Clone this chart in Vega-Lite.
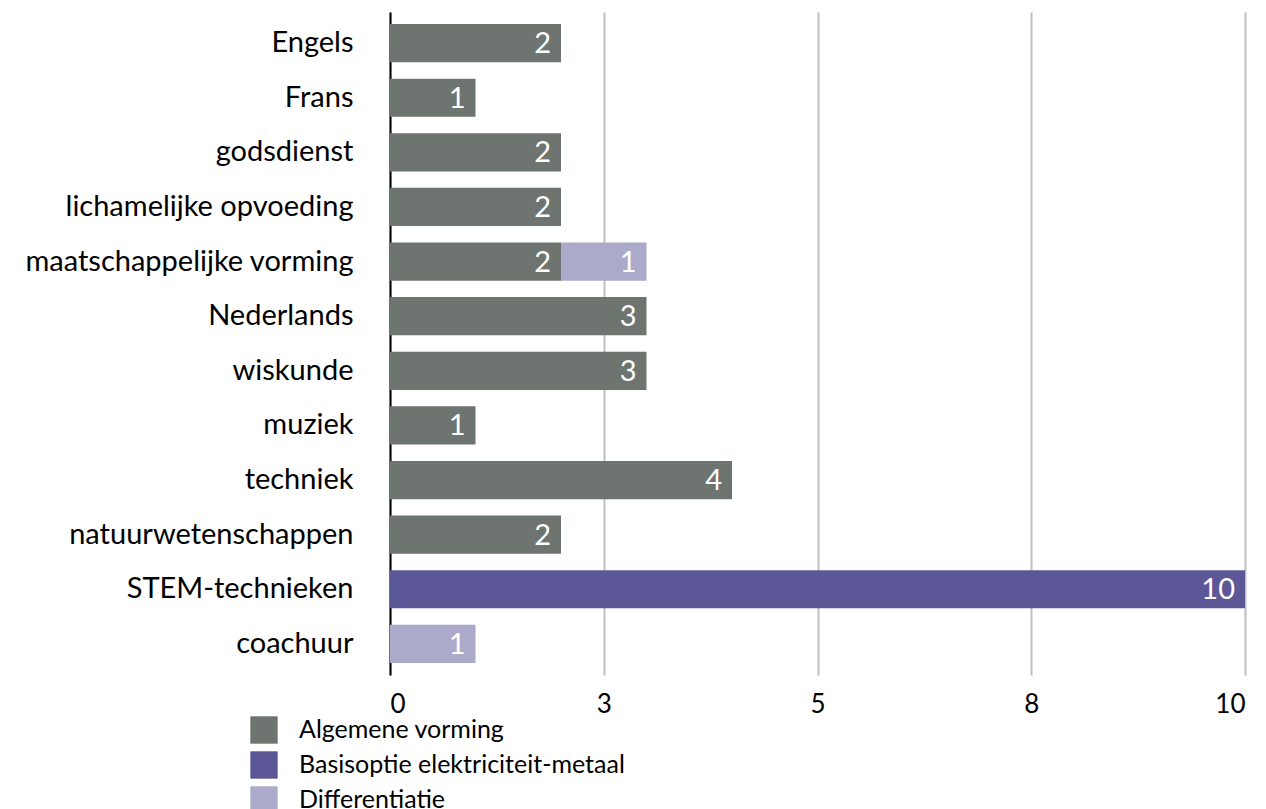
{
  "$schema": "https://vega.github.io/schema/vega-lite/v6.json",
  "autosize": {"type": "none"},
  "width": 855,
  "height": 663,
  "padding": {"left": 390, "top": 12, "right": 21, "bottom": 134},
  "config": {
    "font": "Lato",
    "view": {"stroke": null}
  },
  "data": {
    "values": [
      {"vak": "Engels", "groep": "Algemene vorming", "uren": 2, "volg": 1},
      {"vak": "Frans", "groep": "Algemene vorming", "uren": 1, "volg": 1},
      {"vak": "godsdienst", "groep": "Algemene vorming", "uren": 2, "volg": 1},
      {"vak": "lichamelijke opvoeding", "groep": "Algemene vorming", "uren": 2, "volg": 1},
      {"vak": "maatschappelijke vorming", "groep": "Algemene vorming", "uren": 2, "volg": 1},
      {"vak": "maatschappelijke vorming", "groep": "Differentiatie", "uren": 1, "volg": 3},
      {"vak": "Nederlands", "groep": "Algemene vorming", "uren": 3, "volg": 1},
      {"vak": "wiskunde", "groep": "Algemene vorming", "uren": 3, "volg": 1},
      {"vak": "muziek", "groep": "Algemene vorming", "uren": 1, "volg": 1},
      {"vak": "techniek", "groep": "Algemene vorming", "uren": 4, "volg": 1},
      {"vak": "natuurwetenschappen", "groep": "Algemene vorming", "uren": 2, "volg": 1},
      {"vak": "STEM-technieken", "groep": "Basisoptie elektriciteit-metaal", "uren": 10, "volg": 2},
      {"vak": "coachuur", "groep": "Differentiatie", "uren": 1, "volg": 3}
    ]
  },
  "encoding": {
    "y": {
      "field": "vak",
      "type": "nominal",
      "sort": ["Engels", "Frans", "godsdienst", "lichamelijke opvoeding", "maatschappelijke vorming", "Nederlands", "wiskunde", "muziek", "techniek", "natuurwetenschappen", "STEM-technieken", "coachuur"],
      "scale": {"paddingInner": 0.3, "paddingOuter": 0.22},
      "axis": {
        "title": null,
        "domain": true,
        "domainColor": "#000000",
        "domainWidth": 2,
        "ticks": false,
        "labelPadding": 37,
        "labelFontSize": 29,
        "labelColor": "#000000",
        "labelLimit": 400
      }
    },
    "x": {
      "field": "uren",
      "type": "quantitative",
      "stack": "zero",
      "scale": {"domain": [0, 10], "nice": false},
      "axis": {
        "title": null,
        "values": [0, 2.5, 5, 7.5, 10],
        "format": ".0f",
        "domain": false,
        "ticks": false,
        "grid": true,
        "gridColor": "#bfbfbf",
        "gridWidth": 2,
        "labelPadding": 16,
        "labelFontSize": 26,
        "labelColor": "#000000"
      }
    },
    "order": {"field": "volg", "type": "quantitative"}
  },
  "layer": [
    {
      "mark": {"type": "bar"},
      "encoding": {
        "color": {
          "field": "groep",
          "type": "nominal",
          "scale": {
            "domain": ["Algemene vorming", "Basisoptie elektriciteit-metaal", "Differentiatie"],
            "range": ["#6e7470", "#5c5797", "#acaacb"]
          },
          "legend": {
            "title": null,
            "orient": "none",
            "legendX": -140,
            "legendY": 704,
            "direction": "vertical",
            "symbolType": "square",
            "symbolSize": 750,
            "symbolStrokeWidth": 0,
            "symbolOpacity": 1,
            "labelFontSize": 25,
            "labelColor": "#000000",
            "labelOffset": 21,
            "rowPadding": 7,
            "labelLimit": 500
          }
        }
      }
    },
    {
      "mark": {"type": "text", "align": "right", "dx": -10, "dy": 1, "fontSize": 29, "color": "#ffffff", "baseline": "middle"},
      "encoding": {
        "text": {"field": "uren", "type": "quantitative"}
      }
    }
  ]
}
